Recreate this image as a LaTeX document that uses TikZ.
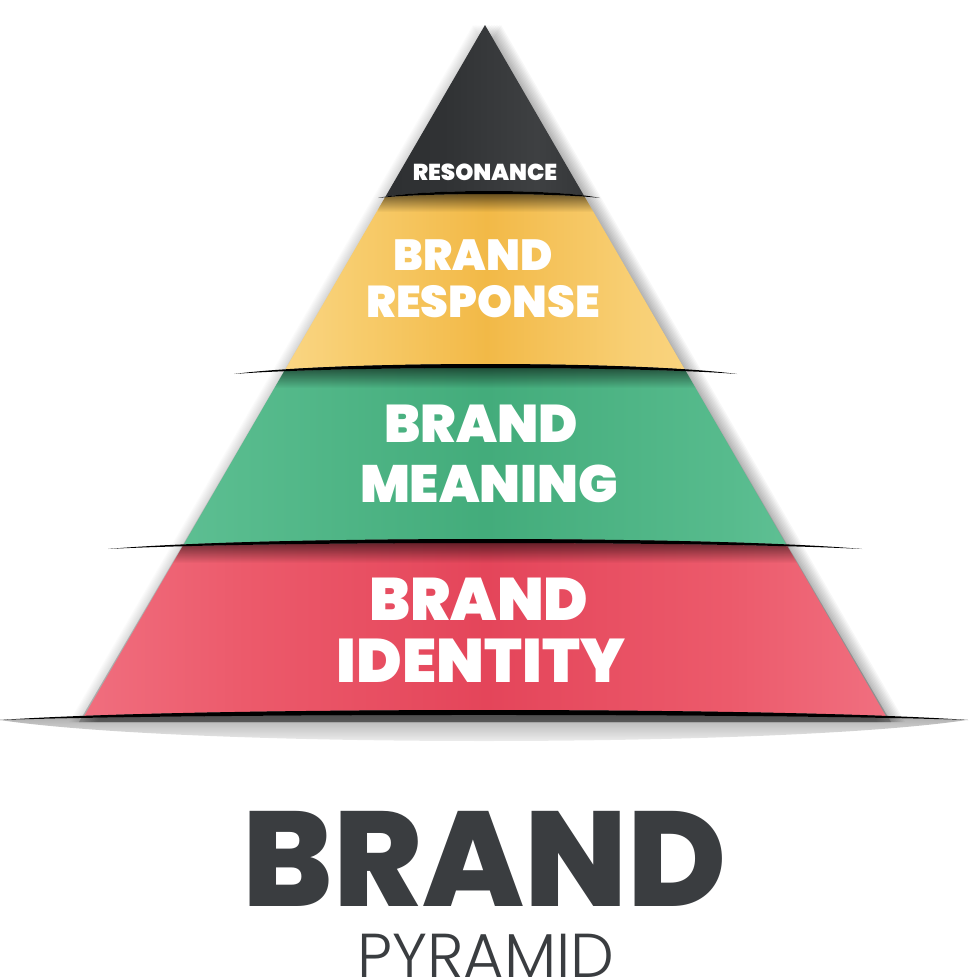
\documentclass[tikz,border=0pt]{standalone}
\usepackage{fontspec}
\setmainfont{Poppins}
\newfontfamily\popxb{Poppins ExtraBold}
\newfontfamily\popbk{Poppins Black}
\newfontfamily\poplt{Poppins Light}
\usetikzlibrary{fadings}
\tikzfading[name=fadedown, top color=transparent!0, bottom color=transparent!100]
\definecolor{titlegray}{HTML}{3A3D40}
\definecolor{k1}{HTML}{2A2C2E}\definecolor{k2}{HTML}{303234}\definecolor{k3}{HTML}{3E4042}\definecolor{k4}{HTML}{26282A}
\definecolor{y1}{HTML}{F5C04F}\definecolor{y2}{HTML}{FBD98C}\definecolor{y3}{HTML}{F7CB6A}\definecolor{y4}{HTML}{F2B947}\definecolor{y5}{HTML}{F8CF74}
\definecolor{g1}{HTML}{4FB686}\definecolor{g2}{HTML}{6CC7A0}\definecolor{g3}{HTML}{57BB8D}\definecolor{g4}{HTML}{43AC7B}\definecolor{g5}{HTML}{72CCA5}
\definecolor{r1}{HTML}{E84A5D}\definecolor{r2}{HTML}{F27888}\definecolor{r3}{HTML}{EC5A6B}\definecolor{r4}{HTML}{E4455A}
\pgfdeclarehorizontalshading{blacksh}{100bp}{color(0bp)=(k1); color(40bp)=(k2); color(62bp)=(k3); color(80bp)=(k2); color(100bp)=(k4)}
\pgfdeclarehorizontalshading{yelsh}{100bp}{color(0bp)=(y1); color(22bp)=(y2); color(35bp)=(y3); color(50bp)=(y4); color(68bp)=(y5); color(83bp)=(y2); color(100bp)=(y1)}
\pgfdeclarehorizontalshading{grnsh}{100bp}{color(0bp)=(g1); color(12bp)=(g2); color(30bp)=(g3); color(50bp)=(g4); color(70bp)=(g3); color(88bp)=(g5); color(100bp)=(g1)}
\pgfdeclarehorizontalshading{redsh}{100bp}{color(0bp)=(r1); color(20bp)=(r2); color(35bp)=(r3); color(50bp)=(r4); color(65bp)=(r3); color(79bp)=(r2); color(100bp)=(r1)}
\tikzset{
  lbl/.style={text=white, inner sep=0pt, anchor=base},
  sepline/.style={fill=black},
  sepshadow/.style={fill=black, path fading=fadedown, fill opacity=0.6},
}
\begin{document}
\begin{tikzpicture}[x=1pt,y=-1pt]
\useasboundingbox (0,0) rectangle (970,980);
\fill[white] (0,0) rectangle (970,980);
% key points
\coordinate (apex) at (485,25);
\coordinate (tl) at (70.3,740); \coordinate (tr) at (899.7,740);
\coordinate (shl) at (81,722); \coordinate (shr) at (889,722);
% separators: ends, top controls (a,b), bottom controls (c,d)
\coordinate (s1l) at (378,198); \coordinate (s1r) at (600,198);
\coordinate (s1a) at (422.4,188.7); \coordinate (s1b) at (555.6,188.7);
\coordinate (s1c) at (422.4,192.7); \coordinate (s1d) at (555.6,192.7);
\coordinate (s2l) at (234,374); \coordinate (s2r) at (737,374);
\coordinate (s2a) at (334.6,360.7); \coordinate (s2b) at (636.4,360.7);
\coordinate (s2c) at (334.6,366); \coordinate (s2d) at (636.4,366);
\coordinate (s3l) at (108,549); \coordinate (s3r) at (862,549);
\coordinate (s3a) at (258.8,535.7); \coordinate (s3b) at (711.2,535.7);
\coordinate (s3c) at (258.8,541); \coordinate (s3d) at (711.2,541);
\coordinate (s4l) at (0,720); \coordinate (s4r) at (968,720);
\coordinate (s4a) at (193.6,706.7); \coordinate (s4b) at (774.4,706.7);
\coordinate (s4c) at (193.6,713.3); \coordinate (s4d) at (774.4,713.3);
% soft side shadows
\foreach \k in {1,...,10} {
  \fill[black, opacity=0.03] ([xshift=1.6*\k pt]apex) -- ([xshift=1.6*\k pt]shr) -- ([xshift=1.6*\k pt]shl) -- cycle;
  \fill[black, opacity=0.016] ([xshift=-1.2*\k pt]apex) -- ([xshift=-1.2*\k pt]shr) -- ([xshift=-1.2*\k pt]shl) -- cycle;
  \fill[black, opacity=0.018] ([yshift=-1.0*\k pt]apex) -- ([xshift=2pt]shr) -- ([xshift=-2pt]shl) -- cycle;
}
% shadow under the base line
\fill[black, path fading=fadedown, fill opacity=0.35] (s4l) .. controls (s4c) and (s4d) .. (s4r) .. controls (780,748) and (190,748) .. (s4l) -- cycle;
% layers
\begin{scope}
  \clip (apex) -- (tr) -- (tl) -- cycle;
  \begin{scope}
    \clip (300,0) -- (700,0) -- (s1r) .. controls (s1b) and (s1a) .. (s1l) -- cycle;
    \shade[shading=blacksh] (380,20) rectangle (592,200);
  \end{scope}
  \begin{scope}
    \clip (s1l) .. controls (s1c) and (s1d) .. (s1r) -- (s2r) .. controls (s2b) and (s2a) .. (s2l) -- cycle;
    \shade[shading=yelsh] (283,185) rectangle (690,376);
  \end{scope}
  \begin{scope}
    \clip (s2l) .. controls (s2c) and (s2d) .. (s2r) -- (s3r) .. controls (s3b) and (s3a) .. (s3l) -- cycle;
    \shade[shading=grnsh] (182,360) rectangle (790,551);
  \end{scope}
  \begin{scope}
    \clip (s3l) .. controls (s3c) and (s3d) .. (s3r) -- (s4r) .. controls (s4b) and (s4a) .. (s4l) -- cycle;
    \shade[shading=redsh] (84,535) rectangle (888,722);
  \end{scope}
  % shadows under the separators
  \fill[sepshadow] (s1l) .. controls (s1c) and (s1d) .. (s1r) -- (600,212) -- (378,212) -- cycle;
  \fill[sepshadow] (s2l) .. controls (s2c) and (s2d) .. (s2r) -- (737,388) -- (234,388) -- cycle;
  \fill[sepshadow] (s3l) .. controls (s3c) and (s3d) .. (s3r) -- (862,563) -- (108,563) -- cycle;
\end{scope}
% separator lines
\fill[sepline] (s1l) .. controls (s1a) and (s1b) .. (s1r) .. controls (s1d) and (s1c) .. (s1l) -- cycle;
\fill[sepline] (s2l) .. controls (s2a) and (s2b) .. (s2r) .. controls (s2d) and (s2c) .. (s2l) -- cycle;
\fill[sepline] (s3l) .. controls (s3a) and (s3b) .. (s3r) .. controls (s3d) and (s3c) .. (s3l) -- cycle;
\fill[sepline] (s4l) .. controls (s4a) and (s4b) .. (s4r) .. controls (s4d) and (s4c) .. (s4l) -- cycle;
% labels
\node[lbl, font=\popbk\fontsize{23}{24}\selectfont] (res) at (485,180) {RESONANCE};
\node[lbl, font=\popbk\fontsize{43.5}{44}\selectfont] (br1) at (473,270) {BRAND};
\node[lbl, font=\popbk\fontsize{44.5}{45}\selectfont] (rsp) at (483,317) {RESPONSE};
\node[lbl, font=\popbk\fontsize{53}{54}\selectfont] (br2) at (481,442) {BRAND};
\node[lbl, font=\popbk\fontsize{52.5}{53}\selectfont] (mea) at (489,502) {MEANING};
\node[lbl, font=\popbk\fontsize{60}{61}\selectfont] (br3) at (479,620) {BRAND};
\node[lbl, font=\popbk\fontsize{61.5}{62}\selectfont] (idn) at (481,682) {IDENTITY};
\node[anchor=base, inner sep=0pt, text depth=0pt, text=titlegray, font=\popxb\fontsize{135}{137}\selectfont] (title) at (485,906) {BRAND};
\node[anchor=base, inner sep=0pt, text depth=0pt, text=titlegray, font=\poplt\fontsize{62}{64}\selectfont] (sub) at (486,977) {PYRAMID};
\end{tikzpicture}
\end{document}
